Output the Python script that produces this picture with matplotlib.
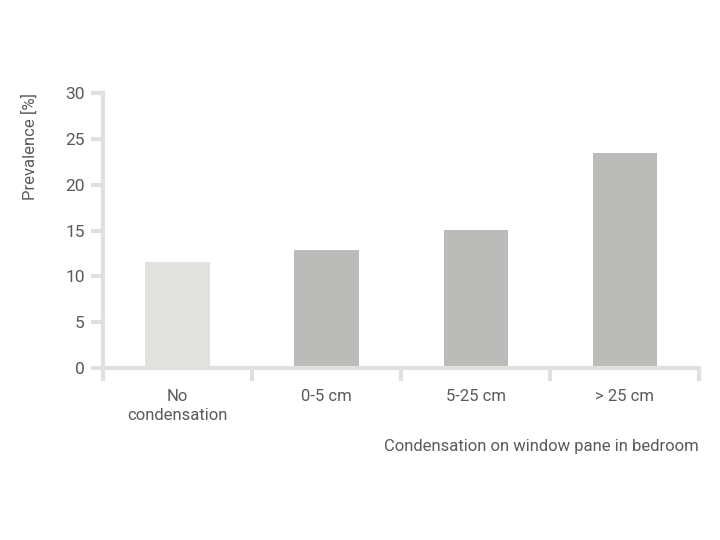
import matplotlib.pyplot as plt

categories = ["No\ncondensation", "0-5 cm", "5-25 cm", "> 25 cm"]
prevalence = [11.6, 12.9, 15.1, 23.4]
bar_colors = ["#e1e1de", "#bbbbba", "#bbbbba", "#bbbbba"]
y_ticks = [0, 5, 10, 15, 20, 25, 30]

plt.rcParams['font.family'] = ['Roboto', 'DejaVu Sans']
axis_col = "#e0e0dc"
text_col = "#5a5a5a"

fig = plt.figure(figsize=(7.2, 5.4), dpi=100)
ax = fig.add_axes([0.143, 0.318, 0.828, 0.51])

centers = [i + 0.5 for i in range(len(categories))]
ax.bar(centers, prevalence, width=0.43, color=bar_colors, zorder=2)

ax.set_xlim(0, len(categories))
ax.set_ylim(0, 30)

for s in ["top", "right"]:
    ax.spines[s].set_visible(False)
for s in ["left", "bottom"]:
    ax.spines[s].set_color(axis_col)
    ax.spines[s].set_linewidth(3)
ax.spines["left"].set_bounds(0, 30)

ax.set_yticks(y_ticks)
ax.tick_params(axis="y", length=9, width=3, color=axis_col, labelcolor=text_col,
               labelsize=12.5, pad=4)

# category separators as major ticks, labels as minor ticks
ax.set_xticks(range(len(categories) + 1))
ax.set_xticklabels([])
ax.tick_params(axis="x", which="major", length=9, width=3, color=axis_col)
ax.set_xticks(centers, minor=True)
ax.set_xticklabels(categories, minor=True)
ax.tick_params(axis="x", which="minor", length=0, labelcolor=text_col, labelsize=12, pad=15)
for t in ax.get_xticklabels(minor=True):
    t.set_linespacing(1.3)

ax.set_ylabel("Prevalence [%]", loc="top", color=text_col, fontsize=12, labelpad=20)
ax.set_xlabel("Condensation on window pane in bedroom", loc="right", color=text_col,
              fontsize=12, labelpad=12)

fig.savefig("out.png", dpi=100)
